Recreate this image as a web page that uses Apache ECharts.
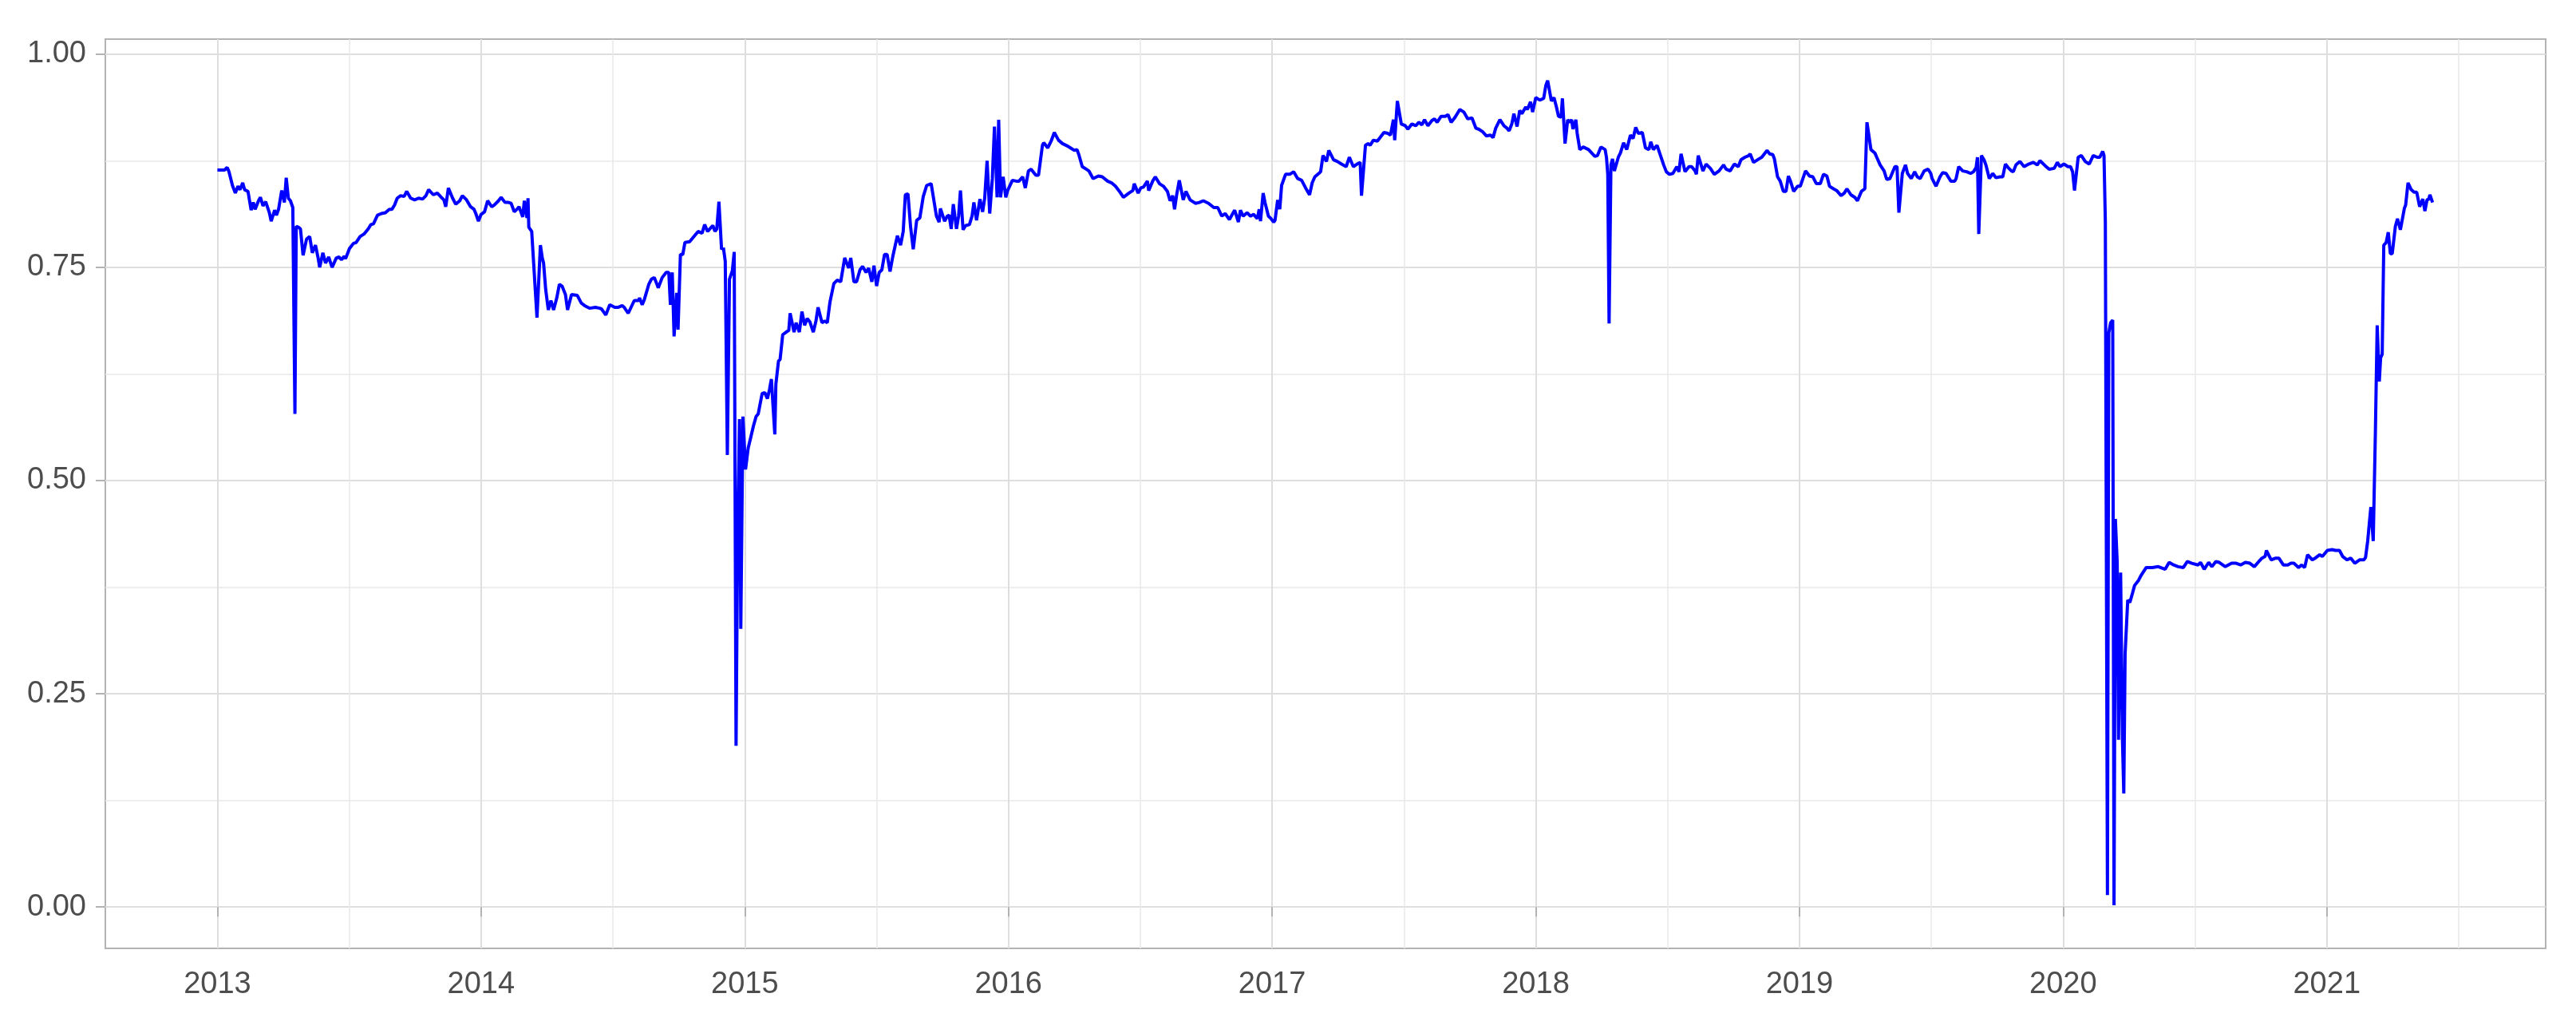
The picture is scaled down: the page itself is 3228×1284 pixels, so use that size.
<!DOCTYPE html>
<html>
<head>
<meta charset="utf-8">
<script src="https://cdn.jsdelivr.net/npm/echarts@6/dist/echarts.min.js"></script>
<style>
  html, body { margin: 0; padding: 0; background: #ffffff; }
  #chart { width: 3228px; height: 1284px; }
</style>
</head>
<body>
<div id="chart"></div>
<script>
// ---- DATA (decimal year, value) ----
const yearFrac = [
  2013.000,2013.017,2013.027,2013.037,2013.044,2013.057,2013.068,2013.078,2013.086,2013.096,
  2013.103,2013.116,2013.128,2013.136,2013.143,2013.156,2013.163,2013.173,2013.183,2013.197,
  2013.204,2013.217,2013.224,2013.232,2013.244,2013.254,2013.261,2013.269,2013.277,2013.286,
  2013.294,2013.299,2013.307,2013.315,2013.325,2013.338,2013.350,2013.360,2013.372,2013.382,
  2013.388,2013.400,2013.410,2013.422,2013.435,2013.451,2013.461,2013.471,2013.481,2013.486,
  2013.501,2013.516,2013.526,2013.541,2013.556,2013.572,2013.582,2013.592,2013.607,2013.622,
  2013.637,2013.652,2013.662,2013.672,2013.682,2013.695,2013.708,2013.718,2013.733,2013.748,
  2013.763,2013.778,2013.791,2013.801,2013.819,2013.834,2013.849,2013.859,2013.866,2013.876,
  2013.892,2013.904,2013.919,2013.929,2013.945,2013.960,2013.973,2013.980,2013.990,2014.000,
  2014.013,2014.025,2014.040,2014.050,2014.066,2014.076,2014.091,2014.104,2014.114,2014.126,
  2014.136,2014.144,2014.151,2014.158,2014.164,2014.174,2014.178,2014.181,2014.192,2014.197,
  2014.212,2014.225,2014.232,2014.237,2014.245,2014.255,2014.265,2014.275,2014.287,2014.297,
  2014.307,2014.320,2014.328,2014.343,2014.365,2014.380,2014.393,2014.411,2014.434,2014.450,
  2014.457,2014.473,2014.488,2014.507,2014.519,2014.535,2014.543,2014.558,2014.581,2014.597,
  2014.601,2014.611,2014.619,2014.636,2014.646,2014.657,2014.672,2014.687,2014.702,2014.712,
  2014.718,2014.725,2014.732,2014.742,2014.747,2014.756,2014.765,2014.773,2014.791,2014.823,
  2014.838,2014.848,2014.859,2014.879,2014.887,2014.894,2014.902,2014.912,2014.919,2014.926,
  2014.934,2014.942,2014.953,2014.960,2014.967,2014.973,2014.980,2014.985,2014.993,2015.003,
  2015.013,2015.023,2015.033,2015.043,2015.051,2015.066,2015.076,2015.086,2015.094,2015.101,
  2015.106,2015.114,2015.118,2015.128,2015.134,2015.144,2015.157,2015.167,2015.172,2015.187,
  2015.195,2015.207,2015.217,2015.227,2015.237,2015.247,2015.260,2015.270,2015.278,2015.293,
  2015.303,2015.313,2015.323,2015.338,2015.351,2015.364,2015.379,2015.394,2015.402,2015.414,
  2015.424,2015.437,2015.447,2015.460,2015.470,2015.482,2015.490,2015.500,2015.510,2015.520,
  2015.530,2015.540,2015.551,2015.561,2015.571,2015.579,2015.591,2015.601,2015.609,2015.619,
  2015.629,2015.639,2015.652,2015.664,2015.677,2015.690,2015.707,2015.712,2015.727,2015.737,
  2015.742,2015.758,2015.768,2015.775,2015.783,2015.791,2015.803,2015.811,2015.818,2015.828,
  2015.838,2015.852,2015.862,2015.869,2015.879,2015.892,2015.902,2015.910,2015.919,2015.929,
  2015.939,2015.947,2015.957,2015.963,2015.970,2015.980,2015.990,2015.997,2016.015,2016.030,
  2016.040,2016.054,2016.064,2016.076,2016.086,2016.104,2016.114,2016.129,2016.134,2016.149,
  2016.162,2016.174,2016.190,2016.205,2016.225,2016.235,2016.250,2016.260,2016.267,2016.280,
  2016.295,2016.305,2016.321,2016.341,2016.356,2016.376,2016.391,2016.406,2016.421,2016.436,
  2016.457,2016.472,2016.477,2016.492,2016.502,2016.512,2016.527,2016.532,2016.547,2016.557,
  2016.573,2016.588,2016.603,2016.613,2016.623,2016.630,2016.638,2016.648,2016.663,2016.673,
  2016.689,2016.709,2016.724,2016.739,2016.759,2016.779,2016.794,2016.809,2016.822,2016.838,
  2016.858,2016.872,2016.880,2016.890,2016.905,2016.918,2016.930,2016.944,2016.951,2016.956,
  2016.966,2016.973,2016.986,2016.996,2017.006,2017.011,2017.021,2017.029,2017.036,2017.051,
  2017.067,2017.082,2017.097,2017.112,2017.127,2017.142,2017.152,2017.162,2017.177,2017.184,
  2017.193,2017.206,2017.215,2017.233,2017.248,2017.263,2017.281,2017.293,2017.308,2017.322,
  2017.334,2017.339,2017.354,2017.364,2017.372,2017.384,2017.399,2017.409,2017.424,2017.439,
  2017.449,2017.460,2017.465,2017.470,2017.475,2017.490,2017.505,2017.515,2017.530,2017.545,
  2017.556,2017.568,2017.578,2017.591,2017.606,2017.616,2017.626,2017.641,2017.657,2017.667,
  2017.679,2017.692,2017.702,2017.712,2017.727,2017.742,2017.758,2017.773,2017.783,2017.798,
  2017.813,2017.828,2017.838,2017.848,2017.864,2017.879,2017.891,2017.899,2017.909,2017.917,
  2017.929,2017.939,2017.947,2017.962,2017.968,2017.980,2017.988,2018.000,2018.015,2018.030,
  2018.038,2018.045,2018.059,2018.069,2018.079,2018.086,2018.096,2018.101,2018.111,2018.121,
  2018.129,2018.136,2018.141,2018.152,2018.157,2018.167,2018.180,2018.200,2018.224,2018.234,
  2018.247,2018.263,2018.268,2018.273,2018.278,2018.285,2018.291,2018.298,2018.313,2018.321,
  2018.333,2018.345,2018.359,2018.369,2018.379,2018.389,2018.404,2018.416,2018.429,2018.436,
  2018.446,2018.460,2018.473,2018.485,2018.495,2018.507,2018.520,2018.535,2018.543,2018.551,
  2018.566,2018.581,2018.591,2018.604,2018.609,2018.616,2018.634,2018.646,2018.662,2018.677,
  2018.695,2018.712,2018.722,2018.737,2018.753,2018.768,2018.778,2018.793,2018.808,2018.813,
  2018.826,2018.846,2018.857,2018.867,2018.877,2018.887,2018.899,2018.905,2018.917,2018.927,
  2018.939,2018.949,2018.958,2018.966,2018.978,2018.993,2019.003,2019.008,2019.023,2019.038,
  2019.051,2019.064,2019.079,2019.091,2019.104,2019.114,2019.129,2019.141,2019.158,2019.170,
  2019.180,2019.195,2019.210,2019.220,2019.235,2019.248,2019.256,2019.271,2019.286,2019.293,
  2019.306,2019.321,2019.331,2019.343,2019.349,2019.362,2019.370,2019.377,2019.390,2019.402,
  2019.410,2019.424,2019.437,2019.447,2019.458,2019.473,2019.488,2019.498,2019.503,2019.518,
  2019.533,2019.543,2019.556,2019.574,2019.589,2019.594,2019.604,2019.619,2019.634,2019.649,
  2019.660,2019.670,2019.675,2019.680,2019.690,2019.700,2019.707,2019.720,2019.733,2019.745,
  2019.761,2019.771,2019.781,2019.791,2019.804,2019.811,2019.821,2019.836,2019.852,2019.869,
  2019.887,2019.902,2019.912,2019.932,2019.947,2019.966,2019.978,2019.988,2020.003,2020.018,
  2020.028,2020.036,2020.043,2020.057,2020.069,2020.084,2020.099,2020.114,2020.129,2020.139,
  2020.150,2020.155,2020.160,2020.168,2020.173,2020.180,2020.188,2020.193,2020.198,2020.205,
  2020.210,2020.218,2020.225,2020.230,2020.235,2020.245,2020.253,2020.263,2020.271,2020.286,
  2020.296,2020.315,2020.338,2020.361,2020.387,2020.402,2020.419,2020.436,2020.456,2020.471,
  2020.488,2020.512,2020.521,2020.535,2020.552,2020.564,2020.579,2020.592,2020.615,2020.639,
  2020.656,2020.673,2020.691,2020.708,2020.725,2020.742,2020.754,2020.766,2020.771,2020.789,
  2020.806,2020.818,2020.835,2020.852,2020.864,2020.875,2020.893,2020.904,2020.916,2020.927,
  2020.945,2020.956,2020.973,2020.983,2021.002,2021.020,2021.033,2021.048,2021.060,2021.077,
  2021.091,2021.106,2021.124,2021.141,2021.147,2021.155,2021.167,2021.176,2021.184,2021.191,
  2021.199,2021.204,2021.210,2021.216,2021.225,2021.233,2021.241,2021.248,2021.260,2021.268,
  2021.279,2021.285,2021.294,2021.299,2021.308,2021.320,2021.331,2021.341,2021.352,2021.364,
  2021.372,2021.380,2021.387,2021.391,2021.401
];
const ratio = [
  0.864,0.864,0.864,0.867,0.862,0.846,0.837,0.845,0.841,0.849,
  0.841,0.839,0.817,0.826,0.818,0.828,0.832,0.822,0.827,0.814,
  0.804,0.817,0.811,0.818,0.840,0.826,0.855,0.831,0.828,0.820,
  0.578,0.798,0.797,0.795,0.764,0.783,0.786,0.767,0.776,0.761,
  0.750,0.767,0.755,0.762,0.750,0.761,0.762,0.759,0.763,0.760,
  0.772,0.778,0.779,0.786,0.789,0.795,0.800,0.801,0.811,0.813,
  0.814,0.818,0.818,0.823,0.831,0.834,0.833,0.839,0.831,0.829,
  0.831,0.830,0.834,0.841,0.835,0.837,0.832,0.829,0.821,0.843,
  0.831,0.824,0.828,0.834,0.829,0.821,0.818,0.813,0.804,0.812,
  0.815,0.828,0.821,0.823,0.828,0.832,0.826,0.826,0.825,0.815,
  0.818,0.821,0.815,0.809,0.828,0.808,0.831,0.797,0.792,0.792,
  0.691,0.776,0.761,0.755,0.724,0.700,0.711,0.700,0.714,0.730,
  0.728,0.718,0.700,0.718,0.717,0.708,0.705,0.702,0.703,0.702,
  0.701,0.694,0.706,0.703,0.703,0.705,0.703,0.696,0.711,0.711,
  0.714,0.706,0.712,0.730,0.736,0.738,0.726,0.738,0.744,0.744,
  0.706,0.744,0.669,0.720,0.677,0.765,0.765,0.779,0.780,0.792,
  0.790,0.800,0.792,0.799,0.792,0.795,0.827,0.771,0.773,0.757,
  0.530,0.736,0.746,0.768,0.189,0.436,0.572,0.326,0.575,0.513,
  0.538,0.551,0.564,0.575,0.578,0.602,0.603,0.596,0.607,0.619,
  0.618,0.554,0.613,0.640,0.642,0.671,0.674,0.676,0.696,0.674,
  0.685,0.674,0.698,0.682,0.690,0.686,0.674,0.687,0.703,0.685,
  0.687,0.685,0.709,0.731,0.735,0.733,0.761,0.749,0.761,0.733,
  0.733,0.747,0.751,0.744,0.749,0.733,0.752,0.728,0.744,0.747,
  0.765,0.765,0.745,0.762,0.776,0.787,0.776,0.792,0.835,0.836,
  0.797,0.771,0.805,0.808,0.833,0.846,0.848,0.848,0.810,0.803,
  0.819,0.804,0.810,0.811,0.795,0.824,0.795,0.810,0.840,0.794,
  0.799,0.800,0.810,0.826,0.805,0.830,0.815,0.831,0.875,0.813,
  0.854,0.915,0.832,0.923,0.832,0.856,0.832,0.840,0.852,0.851,
  0.851,0.856,0.843,0.863,0.865,0.858,0.858,0.893,0.896,0.890,
  0.898,0.908,0.899,0.895,0.892,0.890,0.887,0.888,0.882,0.868,
  0.865,0.863,0.854,0.857,0.856,0.851,0.849,0.845,0.839,0.832,
  0.837,0.840,0.848,0.837,0.843,0.844,0.851,0.840,0.851,0.856,
  0.848,0.845,0.839,0.828,0.834,0.818,0.835,0.852,0.829,0.839,
  0.829,0.825,0.826,0.828,0.825,0.820,0.820,0.810,0.813,0.806,
  0.817,0.803,0.817,0.810,0.814,0.810,0.812,0.807,0.818,0.804,
  0.837,0.826,0.810,0.807,0.803,0.805,0.829,0.818,0.846,0.859,
  0.859,0.862,0.854,0.852,0.843,0.835,0.849,0.856,0.860,0.862,
  0.881,0.874,0.887,0.876,0.874,0.871,0.868,0.879,0.868,0.871,
  0.873,0.834,0.893,0.895,0.893,0.899,0.898,0.902,0.908,0.907,
  0.905,0.923,0.899,0.898,0.945,0.918,0.916,0.912,0.918,0.916,
  0.920,0.917,0.923,0.916,0.922,0.924,0.920,0.927,0.927,0.929,
  0.920,0.925,0.930,0.935,0.932,0.924,0.925,0.913,0.912,0.909,
  0.904,0.905,0.902,0.913,0.923,0.916,0.913,0.910,0.918,0.930,
  0.915,0.934,0.930,0.938,0.935,0.944,0.932,0.949,0.946,0.948,
  0.963,0.969,0.945,0.949,0.937,0.927,0.926,0.948,0.895,0.923,
  0.920,0.923,0.912,0.923,0.907,0.888,0.891,0.888,0.880,0.881,
  0.891,0.888,0.879,0.859,0.684,0.870,0.877,0.863,0.879,0.884,
  0.896,0.888,0.905,0.901,0.914,0.907,0.908,0.890,0.888,0.897,
  0.888,0.893,0.881,0.870,0.862,0.859,0.860,0.868,0.862,0.883,
  0.862,0.868,0.868,0.863,0.859,0.881,0.863,0.871,0.866,0.859,
  0.863,0.870,0.865,0.863,0.871,0.868,0.876,0.879,0.881,0.883,
  0.873,0.877,0.879,0.883,0.887,0.883,0.882,0.877,0.856,0.851,
  0.839,0.839,0.857,0.851,0.839,0.845,0.845,0.846,0.863,0.857,
  0.856,0.848,0.848,0.859,0.857,0.845,0.842,0.840,0.834,0.837,
  0.842,0.835,0.832,0.828,0.839,0.842,0.920,0.888,0.884,0.879,
  0.870,0.863,0.853,0.854,0.853,0.868,0.868,0.814,0.860,0.870,
  0.860,0.854,0.862,0.856,0.854,0.863,0.865,0.860,0.854,0.845,
  0.856,0.861,0.860,0.851,0.851,0.854,0.868,0.863,0.862,0.860,
  0.862,0.867,0.879,0.789,0.881,0.876,0.870,0.854,0.860,0.855,
  0.856,0.856,0.871,0.867,0.863,0.862,0.870,0.874,0.868,0.871,
  0.873,0.870,0.875,0.869,0.865,0.866,0.873,0.868,0.871,0.868,
  0.868,0.862,0.840,0.879,0.881,0.874,0.871,0.881,0.879,0.879,
  0.886,0.881,0.804,0.014,0.673,0.685,0.688,0.002,0.455,0.404,
  0.196,0.392,0.196,0.133,0.297,0.360,0.357,0.368,0.377,0.383,
  0.389,0.398,0.398,0.399,0.396,0.404,0.401,0.399,0.398,0.405,
  0.403,0.401,0.404,0.396,0.404,0.399,0.405,0.404,0.399,0.403,
  0.403,0.401,0.404,0.403,0.399,0.405,0.409,0.411,0.418,0.407,
  0.409,0.409,0.401,0.401,0.403,0.403,0.398,0.401,0.398,0.413,
  0.407,0.409,0.413,0.411,0.418,0.419,0.418,0.418,0.411,0.407,
  0.409,0.403,0.407,0.407,0.410,0.429,0.469,0.429,0.554,0.682,
  0.616,0.644,0.648,0.776,0.779,0.791,0.766,0.766,0.798,0.807,
  0.794,0.794,0.819,0.823,0.849,0.841,0.838,0.838,0.821,0.830,
  0.816,0.829,0.830,0.835,0.826,0.826
];

// ---- ticks ----
const xTickYears = [2013, 2014, 2015, 2016, 2017, 2018, 2019, 2020, 2021];
const xMinorTicks = [2013.5, 2014.5, 2015.5, 2016.5, 2017.5, 2018.5, 2019.5, 2020.5, 2021.5];
const yTickValues = [0, 0.25, 0.5, 0.75, 1.0];
const yMinorTicks = [0.125, 0.375, 0.625, 0.875];

const seriesData = yearFrac.map((x, i) => [x, ratio[i]]);

const X_MIN = 2012.575, X_MAX = 2021.83;
const Y_MIN = -0.0485, Y_MAX = 1.0175;
const FONT = '"Liberation Sans", Arial, Helvetica, sans-serif';

const chart = echarts.init(document.getElementById('chart'), null, { renderer: 'canvas' });
chart.setOption({
  animation: false,
  backgroundColor: '#ffffff',
  grid: {
    left: 132, right: 38, top: 49, bottom: 96,
    show: true, borderColor: '#b3b3b3', borderWidth: 2, backgroundColor: 'transparent'
  },
  xAxis: [
    {
      type: 'value', min: X_MIN, max: X_MAX, position: 'bottom',
      axisLine: { show: false },
      axisTick: { show: true, customValues: xTickYears, length: 12, lineStyle: { color: '#b3b3b3', width: 2 } },
      axisLabel: { show: true, customValues: xTickYears, formatter: v => String(Math.round(v)),
                   color: '#4d4d4d', fontSize: 38, fontFamily: FONT, margin: 27 },
      splitLine: { show: true, lineStyle: { color: '#dedede', width: 2 } }
    },
    {
      type: 'value', min: X_MIN, max: X_MAX, position: 'bottom',
      axisLine: { show: false },
      axisTick: { show: false, customValues: xMinorTicks },
      axisLabel: { show: false, customValues: xMinorTicks },
      splitLine: { show: true, lineStyle: { color: '#e8e8e8', width: 1.5 } }
    }
  ],
  yAxis: [
    {
      type: 'value', min: Y_MIN, max: Y_MAX, position: 'left',
      axisLine: { show: false },
      axisTick: { show: true, customValues: yTickValues, length: 12, lineStyle: { color: '#b3b3b3', width: 2 } },
      axisLabel: { show: true, customValues: yTickValues, formatter: v => v.toFixed(2),
                   color: '#4d4d4d', fontSize: 38, fontFamily: FONT, margin: 24 },
      splitLine: { show: true, lineStyle: { color: '#dedede', width: 2 } }
    },
    {
      type: 'value', min: Y_MIN, max: Y_MAX, position: 'left',
      axisLine: { show: false },
      axisTick: { show: false, customValues: yMinorTicks },
      axisLabel: { show: false, customValues: yMinorTicks },
      splitLine: { show: true, lineStyle: { color: '#e8e8e8', width: 1.5 } }
    }
  ],
  series: [{
    type: 'line',
    xAxisIndex: 0, yAxisIndex: 0,
    data: seriesData,
    showSymbol: false,
    symbol: 'none',
    lineStyle: { color: '#0000ff', width: 4 },
    itemStyle: { color: '#0000ff' },
    z: 5
  }]
});
</script>
</body>
</html>
